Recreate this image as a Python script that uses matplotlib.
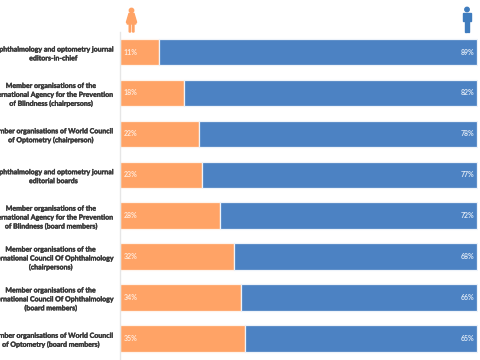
import matplotlib
matplotlib.use("Agg")
import matplotlib.pyplot as plt
import matplotlib.patheffects as pe
from matplotlib.patches import Polygon, Circle
from matplotlib.transforms import Affine2D

categories = [
    "Ophthalmology and optometry journal\neditors-in-chief",
    "Member organisations of the\nInternational Agency for the Prevention\nof Blindness (chairpersons)",
    "Member organisations of World Council\nof Optometry (chairperson)",
    "Ophthalmology and optometry journal\neditorial boards",
    "Member organisations of the\nInternational Agency for the Prevention\nof Blindness (board members)",
    "Member organisations of the\nInternational Council Of Ophthalmology\n(chairpersons)",
    "Member organisations of the\nInternational Council Of Ophthalmology\n(board members)",
    "Member organisations of World Council\nof Optometry (board members)",
]
female = [11, 18, 22, 23, 28, 32, 34, 35]
male = [89, 82, 78, 77, 72, 68, 66, 65]

ORANGE = "#FFA366"
BLUE = "#4C82C3"
W, H = 480, 360

plt.rcParams["font.family"] = ["Lato", "DejaVu Sans"]
fig = plt.figure(figsize=(4.8, 3.6), dpi=100)

ax = fig.add_axes([120 / W, 0, 358 / W, 328 / H])
ys = list(range(len(categories)))
ax.barh(ys, female, height=0.645, color=ORANGE, edgecolor="#FFF4EC", linewidth=0.9)
ax.barh(ys, male, left=female, height=0.645, color=BLUE, edgecolor="#EEF3FA", linewidth=0.9)
ax.set_xlim(0, 100.3)
ax.set_ylim(7.53, -0.49)

for s in ["top", "right", "bottom"]:
    ax.spines[s].set_visible(False)
ax.spines["left"].set_color("#E6E6E6")
ax.spines["left"].set_linewidth(1)
ax.set_xticks([])
ax.set_yticks(ys)
ax.set_yticklabels(categories, fontsize=5.05, fontweight="bold", color="#3A3A3A",
                   linespacing=1.32)
ax.tick_params(axis="y", length=0, pad=5)
for lab in ax.get_yticklabels():
    lab.set_multialignment("center")
    lab.set_path_effects([pe.withStroke(linewidth=0.25, foreground="#3A3A3A")])

for y, f, m in zip(ys, female, male):
    ax.text(1.0, y, f"{f}%", color="#FFE9DA", fontsize=5, fontweight="bold",
            va="center", ha="left")
    ax.text(99.2, y, f"{m}%", color="#DCE7F4", fontsize=5, fontweight="bold",
            va="center", ha="right")

tr = Affine2D().scale(1 / W, 1 / H) + fig.transFigure


def px(points):
    return [(x, H - y) for x, y in points]


# woman icon
fig.add_artist(Circle((131.5, H - 10.5), 2.2, color=ORANGE, transform=tr))
fig.add_artist(Polygon(px([(129, 13.5), (134, 13.5), (136.5, 22), (135.3, 22.5), (134, 18),
                           (136, 24), (134, 24), (134, 32), (132.6, 32), (132.6, 24),
                           (130.6, 24), (130.6, 32), (129.2, 32), (129.2, 24), (127, 24),
                           (129, 18), (127.7, 22.5), (126.5, 22)]),
                       closed=True, color=ORANGE, transform=tr))
# man icon
man = "#3F7CBE"
fig.add_artist(Circle((467, H - 9.5), 2.2, color=man, transform=tr))
fig.add_artist(Polygon(px([(463.3, 13), (470.7, 13), (470.7, 21), (469.3, 21), (469.3, 32),
                           (467.5, 32), (467.5, 23), (466.5, 23), (466.5, 32), (464.7, 32),
                           (464.7, 21), (463.3, 21)]),
                       closed=True, color=man, transform=tr))

fig.savefig("out.png", dpi=100)
